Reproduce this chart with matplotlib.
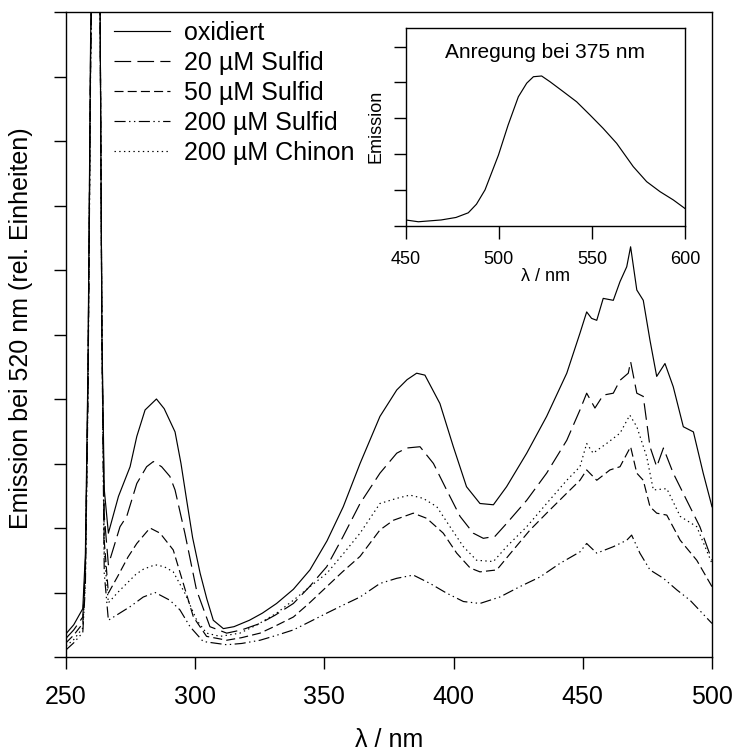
import numpy as np
import matplotlib
matplotlib.use("Agg")
import matplotlib.pyplot as plt

plt.rcParams["font.family"] = ["Liberation Sans", "DejaVu Sans"]
plt.rcParams["lines.scale_dashes"] = False

# ---------------------------------------------------------------------------
# Data (wavelength in nm, emission in rel. units)
# ---------------------------------------------------------------------------

wl_ox = [250, 253, 256.5, 257.5, 258.5, 259.5, 261.5, 263.2, 263.9, 264.8, 266.4,
         270.3, 274.8, 277.4, 280.6, 285, 288, 292.2, 294.5, 296.7, 299, 301.9,
         304.5, 307, 310.9, 315, 321, 326, 331.5, 338, 344.4, 351, 357.3, 363.8,
         371.5, 378, 382, 385.7, 388.9, 394.7, 399.9, 405, 410.2, 415.4, 420.5,
         428.3, 436, 443.8, 448.9, 451.5, 453.4, 455.4, 457.9, 461.8, 464.4, 467,
         468.5, 470.9, 473.4, 476, 478.6, 481.8, 485, 488.9, 492.8, 496.6, 500]
em_ox = [0.36, 0.5, 0.75, 1.6, 4.5, 9.5, 15, 10, 5, 2.6, 1.92,
         2.49, 2.95, 3.42, 3.83, 4.0, 3.85, 3.49, 3.0, 2.43, 1.85, 1.30,
         0.9, 0.57, 0.44, 0.47, 0.57, 0.68, 0.83, 1.05, 1.35, 1.8, 2.33, 3.0,
         3.73, 4.14, 4.3, 4.40, 4.37, 3.93, 3.26, 2.64, 2.38, 2.36, 2.64,
         3.16, 3.73, 4.40, 5.02, 5.35, 5.25, 5.22, 5.56, 5.53, 5.82, 6.05,
         6.36, 5.69, 5.53, 4.91, 4.35, 4.55, 4.19, 3.57, 3.49, 2.85, 2.33]

wl_s20 = [250, 253, 256.5, 257.5, 258.5, 259.5, 261.5, 263.2, 263.9, 264.8, 266.4,
          270.9, 273.5, 277.4, 281.2, 283.8, 287, 290.2, 292.2, 296, 300.5, 305.7,
          312.2, 318, 325.1, 331, 338, 344, 350.9, 357, 363.8, 371.5, 378, 381.8,
          387, 392.2, 397.3, 402.5, 407.6, 411.5, 416, 420.5, 428.3, 436, 443.8,
          448.9, 451.5, 454.7, 457.9, 461.8, 464.4, 467.6, 468.5, 470.9, 473.4,
          476, 478.6, 481.2, 485, 490.2, 495.3, 500]
em_s20 = [0.29, 0.42, 0.62, 1.4, 4.3, 9.3, 15, 10, 5, 2.2, 1.43,
          2.02, 2.18, 2.69, 2.95, 3.03, 2.95, 2.80, 2.59, 1.92, 1.04, 0.47,
          0.37, 0.42, 0.52, 0.65, 0.83, 1.08, 1.40, 1.85, 2.38, 2.85, 3.16, 3.24,
          3.26, 3.0, 2.59, 2.18, 1.92, 1.84, 1.87, 2.07, 2.43, 2.85, 3.36,
          3.83, 4.09, 3.86, 4.06, 4.09, 4.29, 4.40, 4.58, 4.09, 4.04,
          3.26, 2.95, 3.24, 2.85, 2.43, 2.02, 1.50]

wl_s50 = [250, 253, 256.5, 257.5, 258.5, 259.5, 261.5, 263.2, 263.9, 264.8, 266.4,
          270, 274, 277.4, 282.5, 286.4, 291.5, 295.4, 299.3, 304.4, 312.2, 318,
          325.1, 331, 338, 344, 350.9, 357, 363.8, 371.5, 376.7, 384.4, 389.6, 396,
          401.2, 406.4, 410.2, 416.7, 423.1, 429.6, 436, 443.8, 448.9, 451.5, 455.4,
          460.5, 464.4, 468.5, 470.9, 473.4, 476, 478.6, 482.5, 487.7, 494.1, 500]
em_s50 = [0.22, 0.34, 0.52, 1.3, 4.2, 9.2, 15, 10, 5, 1.8, 0.99,
          1.25, 1.55, 1.76, 2.0, 1.92, 1.66, 1.14, 0.62, 0.32, 0.26, 0.30,
          0.37, 0.48, 0.62, 0.83, 1.09, 1.32, 1.56, 1.97, 2.12, 2.23, 2.15, 1.92,
          1.61, 1.38, 1.32, 1.35, 1.66, 1.97, 2.23, 2.54, 2.74, 2.90, 2.74,
          2.90, 2.95, 3.26, 2.85, 2.74, 2.33, 2.23, 2.20, 1.81, 1.50, 1.09]

wl_s200 = [250, 253, 256.5, 257.5, 258.5, 259.5, 261.5, 263.2, 263.9, 264.8, 266.4,
           270, 274.8, 279.9, 284.5, 290.2, 294.1, 298, 303.1, 312.2, 318, 325.1,
           331, 338, 344, 350.9, 357, 363.8, 371.5, 378, 384.4, 390.9, 397.3, 403.8,
           410.2, 417.9, 425.6, 433.4, 441.1, 448.9, 451.5, 455.4, 461.8, 467, 468.9,
           472.1, 476, 481.2, 486.4, 491.5, 500]
em_s200 = [0.11, 0.22, 0.38, 1.1, 4.0, 9.0, 15, 10, 5, 1.3, 0.57,
           0.66, 0.78, 0.93, 1.0, 0.88, 0.73, 0.47, 0.24, 0.19, 0.21, 0.26,
           0.33, 0.42, 0.54, 0.68, 0.80, 0.93, 1.14, 1.22, 1.27, 1.14, 0.99, 0.86,
           0.83, 0.93, 1.09, 1.24, 1.45, 1.63, 1.76, 1.61, 1.71, 1.81, 1.89,
           1.61, 1.35, 1.22, 1.04, 0.88, 0.52]

wl_chin = [250, 253, 256.5, 257.5, 258.5, 259.5, 261.5, 263.2, 263.9, 264.8, 266.4,
           270, 273.5, 277, 279.9, 284.5, 288, 291.5, 296, 300.6, 304.4, 309.6,
           317.3, 324, 331.5, 338, 344.4, 351, 357.3, 363.8, 371.5, 378, 383.1,
           388.2, 393.5, 398.6, 403.8, 408.9, 415.4, 420.5, 428.3, 436, 443.8,
           448.9, 451.5, 454, 459.2, 464.4, 468.2, 470.9, 474.7, 477.3, 482.5,
           487.7, 494.1, 500]
em_chin = [0.17, 0.27, 0.45, 1.2, 4.1, 9.1, 15, 10, 5, 1.6, 0.84,
           1.0, 1.14, 1.28, 1.36, 1.43, 1.40, 1.32, 0.99, 0.57, 0.37, 0.32,
           0.37, 0.50, 0.68, 0.88, 1.09, 1.30, 1.60, 1.92, 2.38, 2.46, 2.51,
           2.46, 2.33, 2.02, 1.71, 1.50, 1.48, 1.71, 2.02, 2.38, 2.74,
           2.95, 3.31, 3.16, 3.31, 3.47, 3.75, 3.57, 3.11, 2.59, 2.61,
           2.18, 2.02, 1.45]

# inset: emission spectrum, excitation at 375 nm
wl_inset = [450, 456.8, 469, 477, 483.6, 488, 492.6, 499.8, 505, 510.5, 515, 518.6,
            523, 527.5, 534.7, 541.8, 549, 556, 563.3, 572.2, 579.4, 586.6, 593.7, 600]
em_inset = [0.16, 0.11, 0.16, 0.23, 0.36, 0.6, 1.0, 1.97, 2.81, 3.6, 3.98, 4.16,
            4.18, 4.02, 3.74, 3.46, 3.09, 2.72, 2.30, 1.65, 1.23, 0.95, 0.72, 0.48]

series = [
    ("oxidiert", wl_ox, em_ox, None),
    ("20 µM Sulfid", wl_s20, em_s20, (12, 4.5)),
    ("50 µM Sulfid", wl_s50, em_s50, (6.5, 3)),
    ("200 µM Sulfid", wl_s200, em_s200, (8, 2.5, 1, 2.5, 1, 2.5)),
    ("200 µM Chinon", wl_chin, em_chin, (1, 2.4)),
]

# ---------------------------------------------------------------------------
# Figure
# ---------------------------------------------------------------------------

fig = plt.figure(figsize=(7.34, 7.54), dpi=100)
ax = fig.add_axes([66 / 734, 1 - 657 / 754, 646 / 734, 645 / 754])

for label, wl, em, dashes in series:
    if dashes is None:
        ax.plot(wl, em, color="black", lw=0.85, label=label)
    else:
        ax.plot(wl, em, color="black", lw=0.85, dashes=dashes, label=label)

ax.set_xlim(250, 500)
ax.set_ylim(0, 10)
ax.set_xticks([250, 300, 350, 400, 450, 500])
ax.set_yticks(np.arange(0, 11, 1))
ax.set_yticklabels([])
ax.tick_params(direction="out", length=8.6, width=1.0, labelsize=18, pad=11.5)
for sp in ax.spines.values():
    sp.set_linewidth(1.0)
ax.set_xlabel("λ / nm", fontsize=18, labelpad=14)
ax.set_ylabel("Emission bei 520 nm (rel. Einheiten)", fontsize=18)
ax.yaxis.set_label_coords((33 - 66) / 646, 0.51)

leg = ax.legend(loc="upper left", bbox_to_anchor=(114 / 734, 1 - 21 / 754),
                bbox_transform=fig.transFigure, frameon=False, fontsize=18,
                handlelength=2.25, handletextpad=0.55, labelspacing=0.24,
                borderpad=0, borderaxespad=0)

# inset
axi = fig.add_axes([405.7 / 734, 1 - 225.7 / 754, 279.3 / 734, 197.7 / 754])
axi.plot(wl_inset, em_inset, color="black", lw=0.85)
axi.set_xlim(450, 600)
axi.set_ylim(0, 5.52)
axi.set_xticks([450, 500, 550, 600])
axi.set_yticks(np.arange(0, 6, 1))
axi.set_yticklabels([])
axi.tick_params(direction="out", length=9, width=1.0, labelsize=13)
axi.tick_params(axis="x", pad=9)
for sp in axi.spines.values():
    sp.set_linewidth(1.0)
axi.set_xlabel("λ / nm", fontsize=13, labelpad=0)
axi.set_ylabel("Emission", fontsize=13)
axi.yaxis.set_label_coords(-0.075, 0.5)
axi.text(0.5, 0.874, "Anregung bei 375 nm", transform=axi.transAxes,
         ha="center", va="center", fontsize=15)

fig.savefig("out.png", dpi=100)
